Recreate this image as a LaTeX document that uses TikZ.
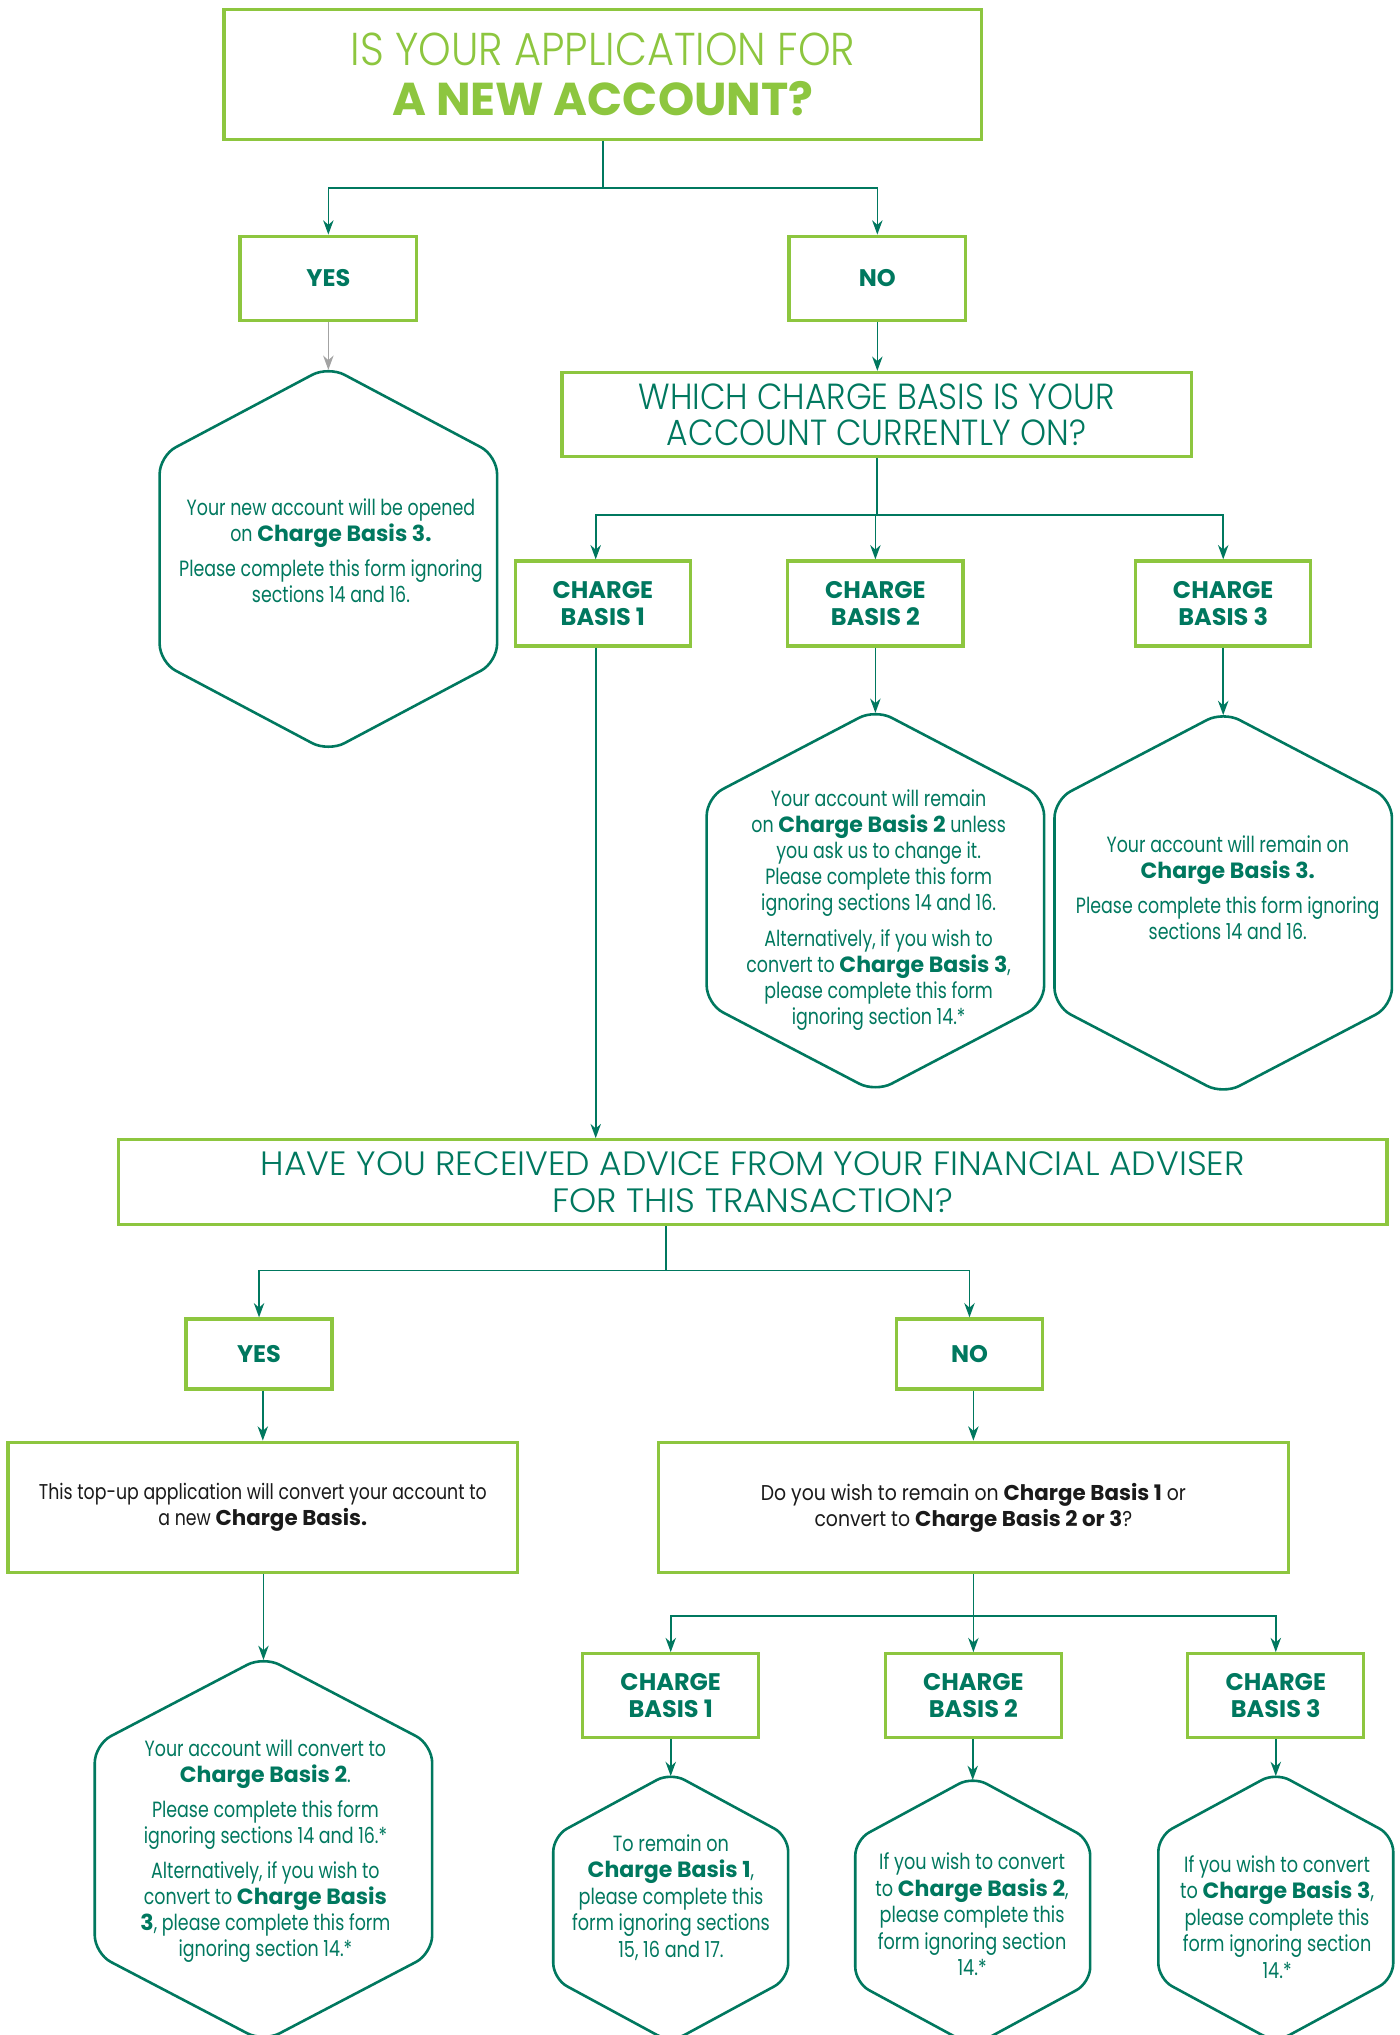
\documentclass[tikz,border=0pt]{standalone}
\usepackage{fontspec}
\setmainfont{Poppins}
\newfontfamily\bk{Poppins}
\IfFontExistsTF{Poppins Light}{\newfontfamily\lt{Poppins Light}}{\newfontfamily\lt{Poppins}}
\usetikzlibrary{arrows.meta}
\definecolor{tealc}{HTML}{00785F}
\definecolor{lgreen}{HTML}{8DC63F}
\definecolor{greyarr}{HTML}{A3A3A3}
\definecolor{ink}{HTML}{1A1A1A}
\newcommand\fnt[2]{\fontsize{#1}{#2}\selectfont}
\newcommand\st[1]{\addfontfeatures{FakeStretch=#1}}
\newcommand\B[1]{{\normalfont\bfseries #1}}
% name, cx, virtual top, half width, slant height, straight side, corner radius
\newcommand\hexshape[7]{%
  \draw[hexline, rounded corners=#7pt] (#2,#3) -- (#2+#4,#3+#5) -- (#2+#4,#3+#5+#6) -- (#2,#3+2*#5+#6)
     -- (#2-#4,#3+#5+#6) -- (#2-#4,#3+#5) -- cycle;
  \coordinate (#1) at (#2,#3+2.8);}
\tikzset{
  gbox/.style={draw=lgreen, line width=2.5pt, fill=white, inner sep=0pt, align=center},
  conn/.style={draw=tealc, line width=1.3pt},
  arr/.style={conn, -{Stealth[length=11pt,width=8pt,inset=3.5pt]}},
  hexline/.style={draw=tealc, line width=2pt},
  hext/.style={align=center, text=tealc, inner sep=0pt, font=\bk\st{0.79}\fnt{17}{20}},
  hexs/.style={align=center, text=tealc, inner sep=0pt, font=\bk\st{0.80}\fnt{17}{20.5}},
  cbt/.style={gbox, text=tealc, font=\bfseries\fnt{18.5}{21}},
}
\begin{document}
\begin{tikzpicture}[x=1pt,y=-1pt]
\fill[white] (0,0) rectangle (1078,1568);
\useasboundingbox (0,0) rectangle (1078,1568);

% ---- top question
\node[gbox, minimum width=584pt, minimum height=100pt, text=lgreen, font=\fnt{35.5}{38.8}] (tq) at (464.5,57.5)
  {{\lt\st{0.90}IS YOUR APPLICATION FOR}\\{\bfseries A NEW ACCOUNT?}};
\node[cbt, minimum width=136pt, minimum height=65pt] (yes1) at (253,214.5) {YES};
\node[cbt, minimum width=136pt, minimum height=65pt] (no1) at (676,214.5) {NO};
\coordinate (j1) at (464.5,145);
\draw[conn] (tq.south) -- (j1);
\draw[arr] (j1) -| (yes1.north);
\draw[arr] (j1) -| (no1.north);

% ---- yes branch
\hexshape{h1}{253}{282.2}{130}{69}{159}{14}
\draw[arr, draw=greyarr] (yes1.south) -- (h1);
\node[hext] (t1) at (255,424) {Your new account will be opened\\ on \B{Charge Basis 3.}\\[7pt]
  Please complete this form ignoring\\ sections 14 and 16.};

% ---- which charge basis
\node[gbox, minimum width=485pt, minimum height=65pt, text=tealc, font=\lt\st{0.91}\fnt{28}{28}] (whb) at (675.5,319.5)
  {WHICH CHARGE BASIS IS YOUR\\ACCOUNT CURRENTLY ON?};
\draw[arr] (no1.south) -- (no1.south |- whb.north);
\node[cbt, minimum width=135pt, minimum height=65.5pt] (cb1) at (464.5,465) {CHARGE\\BASIS 1};
\node[cbt, minimum width=135pt, minimum height=65.5pt] (cb2) at (674.5,465) {CHARGE\\BASIS 2};
\node[cbt, minimum width=135pt, minimum height=65.5pt] (cb3) at (942.5,465) {CHARGE\\BASIS 3};
\coordinate (j2) at (675.5,397);
\draw[conn] (whb.south) -- (j2);
\draw[arr] (j2) -| ([xshift=-5.5pt]cb1.north);
\draw[arr] (j2) -| (cb2.north);
\draw[arr] (j2) -| (cb3.north);

\hexshape{h2}{674.5}{546.5}{130}{68}{159}{14}
\hexshape{h3}{942.5}{548.2}{130}{68}{159}{14}
\draw[arr] (cb2.south) -- (h2);
\draw[arr] (cb3.south) -- (h3);
\node[hext] (t2) at (677,701) {Your account will remain\\ on \B{Charge Basis 2} unless\\ you ask us to change it.\\
  Please complete this form\\ ignoring sections 14 and 16.\\[8pt]
  Alternatively, if you wish to\\ convert to \B{Charge Basis 3},\\ please complete this form\\ ignoring section 14.*};
\node[hext] (t3) at (946,684) {Your account will remain on\\ \B{Charge Basis 3.}\\[7pt]
  Please complete this form ignoring\\ sections 14 and 16.};

% ---- advice question
\node[gbox, minimum width=977.5pt, minimum height=65.5pt, text=tealc, font=\lt\st{1.025}\fnt{26}{28}] (have) at (580,911)
  {HAVE YOU RECEIVED ADVICE FROM YOUR FINANCIAL ADVISER\\FOR THIS TRANSACTION?};
\coordinate (cb1o) at ([xshift=-5.5pt]cb1.south);
\draw[arr] (cb1o) -- (cb1o |- have.north);
\node[cbt, minimum width=112.5pt, minimum height=54pt] (yes2) at (199.6,1043.3) {YES};
\node[cbt, minimum width=112.5pt, minimum height=54pt] (no2) at (747,1043.3) {NO};
\coordinate (j3) at (513,979);
\draw[conn] (j3 |- have.south) -- (j3);
\draw[arr] (j3) -| (yes2.north);
\draw[arr] (j3) -| (no2.north);

\node[gbox, minimum width=392.5pt, minimum height=100.5pt, text=ink, font=\bk\st{0.81}\fnt{16.5}{20}] (topup) at (202.5,1161.5)
  {This top-up application will convert your account to\\ a new \B{Charge Basis.}};
\node[gbox, minimum width=485.5pt, minimum height=100.5pt, text=ink, font=\bk\st{0.88}\fnt{16.5}{20}] (wish) at (750,1161.5)
  {Do you wish to remain on \B{Charge Basis 1} or\\ convert to \B{Charge Basis 2 or 3}?};
\draw[arr] (yes2.south -| topup.north) -- (topup.north);
\draw[arr] (no2.south -| wish.north) -- (wish.north);

% ---- bottom left hexagon
\hexshape{h4}{203}{1276.2}{130}{68}{161}{14}
\draw[arr] (topup.south -| h4) -- (h4);
\node[hext] (t4) at (204.5,1426) {Your account will convert to\\ \B{Charge Basis 2}.\\[7pt]
  Please complete this form\\ ignoring sections 14 and 16.*\\[7pt]
  Alternatively, if you wish to\\ convert to \B{Charge Basis}\\ \B{3}, please complete this form\\ ignoring section 14.*};

% ---- bottom right branch
\coordinate (j4) at (750,1245);
\draw[conn] (wish.south) -- (j4);
\node[cbt, minimum width=135.5pt, minimum height=64.5pt] (cb1b) at (516.8,1306.5) {CHARGE\\BASIS 1};
\node[cbt, minimum width=135.5pt, minimum height=64.5pt] (cb2b) at (750,1306.5) {CHARGE\\BASIS 2};
\node[cbt, minimum width=135.5pt, minimum height=64.5pt] (cb3b) at (983,1306.5) {CHARGE\\BASIS 3};
\draw[arr] (j4) -| (cb1b.north);
\draw[arr] (j4) -- (cb2b.north);
\draw[arr] (j4) -| (cb3b.north);

\hexshape{h5}{516.8}{1365.7}{90.5}{49}{110}{12}
\hexshape{h6}{749.5}{1368.7}{90.5}{49}{110}{12}
\hexshape{h7}{983}{1365.7}{90.5}{49}{110}{12}
\draw[arr] (cb1b.south) -- (h5);
\draw[arr] (cb2b.south -| h6) -- (h6);
\draw[arr] (cb3b.south) -- (h7);
\node[hexs] (t5) at (517,1462) {To remain on\\ \B{Charge Basis 1},\\ please complete this\\ form ignoring sections\\ 15, 16 and 17.};
\node[hexs] (t6) at (749,1475) {If you wish to convert\\ to \B{Charge Basis 2},\\ please complete this\\ form ignoring section\\ 14.*};
\node[hexs] (t7) at (984,1477) {If you wish to convert\\ to \B{Charge Basis 3},\\ please complete this\\ form ignoring section\\ 14.*};
\end{tikzpicture}
\end{document}
